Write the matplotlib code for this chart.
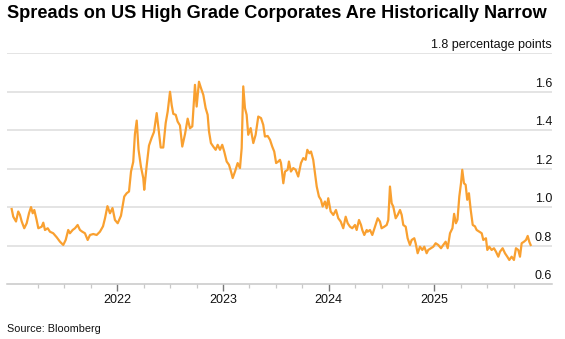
import matplotlib
matplotlib.use("Agg")
import matplotlib.pyplot as plt
import matplotlib.transforms as mtransforms
import numpy as np

plt.rcParams['font.family'] = ['Liberation Sans', 'DejaVu Sans']

title = "Spreads on US High Grade Corporates Are Historically Narrow"
source = "Source: Bloomberg"
unit_label = "1.8 percentage points"

# time in fractional years
t = [
    2021.001, 2021.016, 2021.042, 2021.063, 2021.079, 2021.096, 2021.120, 2021.143, 2021.165, 2021.184,
    2021.200, 2021.215, 2021.237, 2021.253, 2021.285, 2021.300, 2021.316, 2021.342, 2021.363, 2021.394,
    2021.427, 2021.458, 2021.489, 2021.512, 2021.536, 2021.552, 2021.578, 2021.600, 2021.625, 2021.647,
    2021.669, 2021.694, 2021.720, 2021.742, 2021.773, 2021.805, 2021.836,
    2021.865, 2021.884, 2021.907, 2021.931, 2021.955, 2021.978, 2022.004, 2022.035, 2022.066, 2022.089,
    2022.111, 2022.130, 2022.151, 2022.167, 2022.184, 2022.201, 2022.224, 2022.246, 2022.255, 2022.278,
    2022.300, 2022.325, 2022.347, 2022.373, 2022.388, 2022.411, 2022.435, 2022.458, 2022.477, 2022.499,
    2022.515, 2022.530, 2022.553, 2022.571, 2022.593, 2022.615, 2022.641,
    2022.666, 2022.688, 2022.710, 2022.735, 2022.751, 2022.773, 2022.792, 2022.814, 2022.836, 2022.855,
    2022.868, 2022.886, 2022.908, 2022.931, 2022.950, 2022.972, 2022.993, 2023.012, 2023.035, 2023.057,
    2023.076, 2023.092, 2023.114, 2023.139, 2023.161, 2023.177, 2023.192, 2023.208, 2023.224, 2023.239,
    2023.262, 2023.287, 2023.309, 2023.334, 2023.360, 2023.381, 2023.397, 2023.423, 2023.445, 2023.466,
    2023.485, 2023.503, 2023.523, 2023.539,
    2023.549, 2023.571, 2023.587, 2023.612, 2023.624, 2023.643, 2023.665, 2023.688, 2023.712, 2023.738,
    2023.760, 2023.782, 2023.798, 2023.817, 2023.833, 2023.854, 2023.870, 2023.887, 2023.908, 2023.927,
    2023.943, 2023.965, 2023.981, 2023.996, 2024.019, 2024.044, 2024.069, 2024.091, 2024.114, 2024.138,
    2024.161, 2024.180, 2024.202, 2024.223, 2024.249, 2024.265, 2024.287, 2024.306, 2024.318, 2024.337,
    2024.360,
    2024.369, 2024.391, 2024.413, 2024.438, 2024.464, 2024.485, 2024.501, 2024.526, 2024.549, 2024.564,
    2024.580, 2024.596, 2024.611, 2024.634, 2024.653, 2024.675, 2024.691, 2024.706, 2024.729, 2024.747,
    2024.769, 2024.785, 2024.810, 2024.823, 2024.842, 2024.864, 2024.886, 2024.905, 2024.927, 2024.942,
    2024.968, 2024.990, 2025.012, 2025.037, 2025.063, 2025.084, 2025.107, 2025.126, 2025.148, 2025.171,
    2025.187, 2025.204, 2025.219, 2025.236, 2025.252, 2025.264, 2025.280, 2025.296, 2025.311, 2025.327,
    2025.344, 2025.363, 2025.384, 2025.400, 2025.425, 2025.448, 2025.463, 2025.488, 2025.501, 2025.519,
    2025.542, 2025.564, 2025.583, 2025.605, 2025.621, 2025.646, 2025.668, 2025.690, 2025.709, 2025.731,
    2025.753, 2025.772, 2025.794, 2025.810, 2025.826, 2025.848, 2025.867, 2025.883, 2025.898, 2025.911,
]

spread = [
    0.990, 0.950, 0.925, 0.977, 0.960, 0.925, 0.890, 0.916, 0.968, 1.000,
    0.968, 0.985, 0.933, 0.890, 0.898, 0.919, 0.881, 0.890, 0.872, 0.864,
    0.843, 0.820, 0.803, 0.829, 0.881, 0.864, 0.881, 0.890, 0.907, 0.881,
    0.872, 0.864, 0.829, 0.855, 0.860, 0.855, 0.872,
    0.900, 0.942, 1.005, 0.968, 0.995, 0.933, 0.916, 0.955, 1.055, 1.072,
    1.081, 1.185, 1.235, 1.380, 1.450, 1.300, 1.210, 1.151, 1.090, 1.215,
    1.320, 1.360, 1.390, 1.489, 1.420, 1.310, 1.310, 1.437, 1.497, 1.600,
    1.530, 1.485, 1.480, 1.445, 1.425, 1.315, 1.380,
    1.460, 1.410, 1.420, 1.636, 1.523, 1.652, 1.619, 1.584, 1.515, 1.480,
    1.393, 1.333, 1.315, 1.298, 1.324, 1.298, 1.324, 1.289, 1.237, 1.220,
    1.185, 1.151, 1.185, 1.229, 1.203, 1.307, 1.628, 1.515, 1.480, 1.376,
    1.411, 1.333, 1.376, 1.471, 1.463, 1.428, 1.367, 1.370, 1.350, 1.315,
    1.289, 1.229, 1.237, 1.246,
    1.229, 1.124, 1.185, 1.194, 1.237, 1.185, 1.203, 1.194, 1.159, 1.229,
    1.255, 1.246, 1.298, 1.280, 1.289, 1.246, 1.177, 1.107, 1.055, 1.038,
    1.003, 1.029, 0.994, 1.046, 0.977, 0.959, 0.985, 0.942, 0.925, 0.890,
    0.950, 0.916, 0.898, 0.890, 0.907, 0.881, 0.933, 0.907, 0.881, 0.855,
    0.881,
    0.872, 0.881, 0.855, 0.898, 0.942, 0.925, 0.890, 0.898, 0.907, 0.933,
    1.107, 1.020, 1.003, 0.942, 0.959, 0.985, 0.959, 0.907, 0.898, 0.838,
    0.803, 0.829, 0.838, 0.812, 0.760, 0.794, 0.777, 0.794, 0.760, 0.777,
    0.786, 0.794, 0.812, 0.803, 0.786, 0.803, 0.820, 0.786, 0.864, 0.890,
    0.965, 0.916, 0.935, 1.055, 1.124, 1.194, 1.124, 1.116, 1.038, 1.072,
    0.985, 0.907, 0.900, 0.881, 0.872, 0.864, 0.829, 0.838, 0.777, 0.794,
    0.777, 0.786, 0.768, 0.742, 0.768, 0.786, 0.760, 0.742, 0.725, 0.742,
    0.725, 0.786, 0.777, 0.742, 0.812, 0.820, 0.829, 0.850, 0.820, 0.803,
]

y_ticks = [0.6, 0.8, 1.0, 1.2, 1.4, 1.6, 1.8]
y_tick_labels = ["0.6", "0.8", "1.0", "1.2", "1.4", "1.6", unit_label]
x_major = [2022, 2023, 2024, 2025]
x_major_labels = ["2022", "2023", "2024", "2025"]
x_minor = [2021.25, 2021.5, 2021.75, 2022.25, 2022.5, 2022.75, 2023.25, 2023.5, 2023.75,
           2024.25, 2024.5, 2024.75, 2025.25, 2025.5, 2025.75]
x_range = (2020.952, 2026.113)

fig = plt.figure(figsize=(5.65, 3.39), dpi=100)
ax = fig.add_axes([6.5 / 565, 1 - 284 / 339, (552 - 6.5) / 565, (284 - 53.3) / 339])

ax.set_xlim(*x_range)
ax.set_ylim(0.6, 1.8)

for v in y_ticks[1:]:
    ax.axhline(v, color='#dcdcdc', lw=1.1, zorder=1)

ax.plot(t, spread, color='#F9A030', lw=1.6, zorder=3, solid_joinstyle='round')

for s in ['top', 'right', 'left']:
    ax.spines[s].set_visible(False)
ax.spines['bottom'].set_color('#c8c8c8')
ax.spines['bottom'].set_linewidth(1.1)

ax.set_yticks([])
ax.set_xticks(x_major)
ax.set_xticklabels(x_major_labels)
ax.set_xticks(x_minor, minor=True)
ax.tick_params(axis='x', which='major', length=4.8, width=1.0, color='#777777',
               labelsize=9, pad=2.5, labelcolor='#111111')
ax.tick_params(axis='x', which='minor', length=2.7, width=0.9, color='#c8c8c8')

trans = mtransforms.blended_transform_factory(ax.transAxes, ax.transData)
for v, lab in zip(y_ticks, y_tick_labels):
    ax.annotate(lab, xy=(1.0, v), xycoords=trans, xytext=(0, 3.6), textcoords='offset points',
                ha='right', va='baseline', fontsize=9, color='#111111')

fig.text(7 / 565, 1 - 13 / 339, title, ha='left', va='center', fontsize=13.1,
         fontweight='bold', color='#000000')
fig.text(7 / 565, 1 - 329 / 339, source, ha='left', va='center', fontsize=7.8, color='#111111')

fig.savefig('out.png', dpi=100)
